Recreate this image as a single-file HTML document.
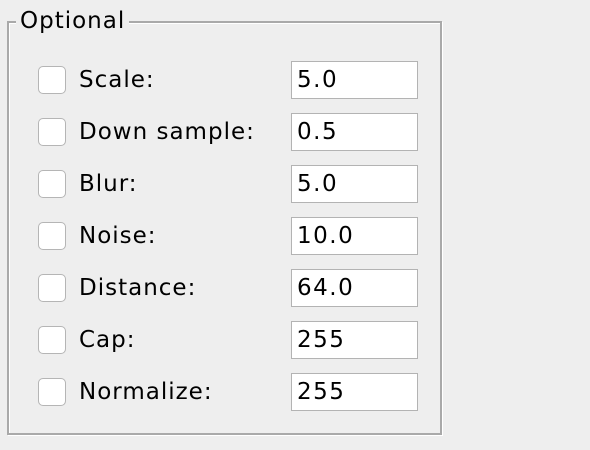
<!DOCTYPE html>
<html><head><style>
body{margin:0;width:590px;height:450px;background:#eeeeee;font-family:"DejaVu Sans","Liberation Sans",sans-serif;position:relative;overflow:hidden}
.box{position:absolute;left:7px;top:21px;width:431px;height:410px;border:2px solid #a9a9a9;box-shadow:1px 1px 0 #fff, inset 1px 1px 0 #fff}
.title{position:absolute;left:16px;top:7px;padding:0 4px;background:#eeeeee;font-size:23px;color:#000;line-height:28px;letter-spacing:1px}
.cb{position:absolute;left:38px;width:26px;height:26px;border:1px solid #b5b5b5;border-radius:5px;background:#fff}
.lbl{position:absolute;left:79px;font-size:23px;line-height:26px;color:#000;letter-spacing:1px}
.tf{position:absolute;left:291px;border:1px solid #b3b3b3;background:#fff;font-size:23px;line-height:36px;padding-left:5px;box-sizing:border-box;width:127px;height:38px;letter-spacing:1.5px}
</style></head><body>
<div class="box"></div>
<div class="title">Optional</div>
<div id="rows"></div>
<script>
const labels=["Scale:","Down sample:","Blur:","Noise:","Distance:","Cap:","Normalize:"];
const values=["5.0","0.5","5.0","10.0","64.0","255","255"];
const root=document.getElementById('rows');
labels.forEach((l,i)=>{
 const cy=80+52*i;
 const c=document.createElement('div');c.className='cb';c.style.top=(cy-14)+'px';
 
 
 const t=document.createElement('div');t.className='lbl';t.style.top=(cy-13)+'px';t.textContent=l;
 
 
 const f=document.createElement('div');f.className='tf';f.style.top=(cy-19)+'px';f.textContent=values[i];
 
 
 root.append(c,t,f);
});
</script>
</body></html>
